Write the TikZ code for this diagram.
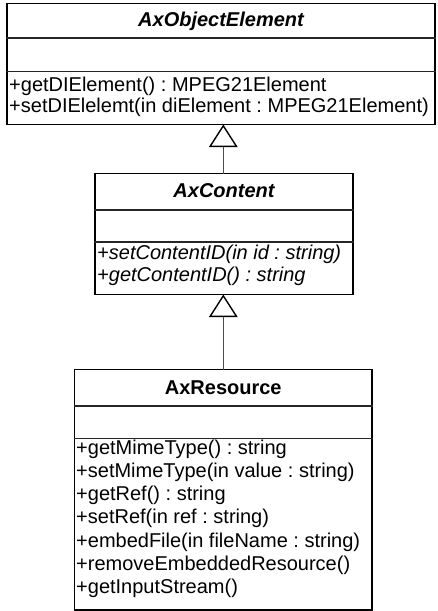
\documentclass[tikz,border=0pt]{standalone}
\usepackage{fontspec}
\setmainfont{Liberation Sans}
\frenchspacing
\usetikzlibrary{arrows.meta}
\begin{document}
\begin{tikzpicture}[x=1pt,y=1pt,
  umlbox/.style={draw=black,line width=1.4pt,fill=white,inner sep=0pt},
  sep/.style={draw=black!85,line width=1.2pt},
  ttl/.style={anchor=base,inner sep=0pt,font=\fontsize{20}{24}\selectfont\bfseries},
  op/.style={anchor=base west,inner sep=0pt,font=\fontsize{20}{24}\selectfont},
  gen/.style={draw=black!70,line width=1.2pt,
    -{Triangle[open,length=22.5pt,width=28.5pt,line width=1.4pt,color=black,fill=white]}}]
\useasboundingbox (0,0) rectangle (437,-611);
% boxes
\node[umlbox,minimum width=428pt,minimum height=121pt] (c1) at (221,-64) {};
\node[umlbox,minimum width=258pt,minimum height=121pt] (c2) at (224,-234) {};
\node[umlbox,minimum width=297.5pt,minimum height=240.5pt] (c3) at (223.25,-489.75) {};
% separators
\draw[sep] (c1.west |- 0,-38) -- (c1.east |- 0,-38);
\draw[sep] (c1.west |- 0,-71.5) -- (c1.east |- 0,-71.5);
\draw[sep] (c2.west |- 0,-210) -- (c2.east |- 0,-210);
\draw[sep] (c2.west |- 0,-242) -- (c2.east |- 0,-242);
\draw[sep] (c3.west |- 0,-406) -- (c3.east |- 0,-406);
\draw[sep] (c3.west |- 0,-438.5) -- (c3.east |- 0,-438.5);
% titles
\node[ttl] (t1) at (221,-26.7) {\itshape AxObjectElement};
\node[ttl] (t2) at (224,-197.7) {\itshape AxContent};
\node[ttl] (t3) at (223.25,-394) {AxResource};
% operations
\node[op] (o11) at (9,-91.7) {+getDIElement() : MPEG21Element};
\node[op] (o12) at (9,-112.3) {+setDIElelemt(in diElement : MPEG21Element)};
\node[op,font=\fontsize{20}{24}\selectfont\itshape] (o21) at (97,-259.3) {+setContentID(in id : string)};
\node[op,font=\fontsize{20}{24}\selectfont\itshape] (o22) at (97,-281.7) {+getContentID() : string};
\node[op] (o31) at (76,-454) {+getMimeType() : string};
\node[op] (o32) at (76,-477.25) {+setMimeType(in value : string)};
\node[op] (o33) at (76,-500.5) {+getRef() : string};
\node[op] (o34) at (76,-523.75) {+setRef(in ref : string)};
\node[op] (o35) at (76,-547) {+embedFile(in fileName : string)};
\node[op] (o36) at (76,-570.25) {+removeEmbeddedResource()};
\node[op] (o37) at (76,-593.5) {+getInputStream()};
% generalisations
\coordinate (a1) at (223.3,-124.5);
\coordinate (s2) at (223.3,-173.5);
\coordinate (a2) at (223.3,-294.5);
\coordinate (s3) at (223.3,-369.5);
\draw[gen] (s2) -- (a1);
\draw[gen] (s3) -- (a2);
\end{tikzpicture}
\end{document}
